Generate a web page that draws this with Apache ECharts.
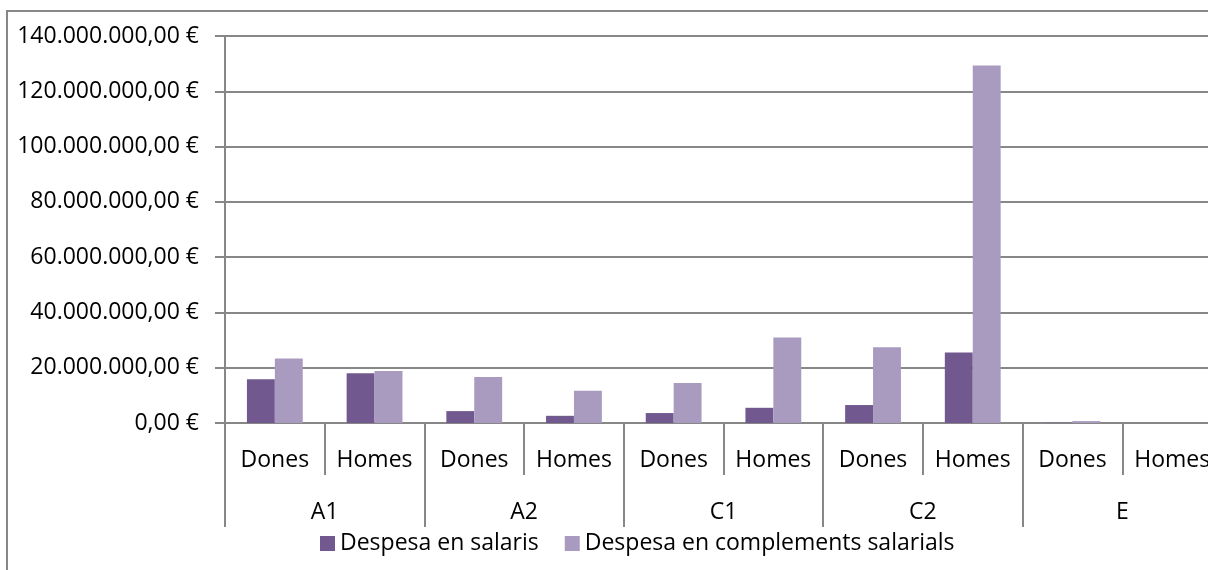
<!DOCTYPE html>
<html>
<head>
<meta charset="utf-8">
<script src="https://cdn.jsdelivr.net/npm/echarts@6/dist/echarts.min.js"></script>
<style>
html,body{margin:0;padding:0;background:#fff;}
#c{width:1208px;height:570px;}
</style>
</head>
<body>
<div id="c"></div>
<script>
const subCategories = ['Dones','Homes','Dones','Homes','Dones','Homes','Dones','Homes','Dones','Homes'];
const groups = ['A1','A2','C1','C2','E'];
const seriesNames = ['Despesa en salaris','Despesa en complements salarials'];
const salaris = [15800000, 18000000, 4300000, 2600000, 3600000, 5500000, 6500000, 25500000, 100000, 0];
const complements = [23300000, 18800000, 16600000, 11700000, 14500000, 30900000, 27400000, 129300000, 700000, 0];
const yTicks = {min: 0, max: 140000000, interval: 20000000};

const FONT = 'Open Sans';
const FS = 23;
const gray = '#878787';

function fmtEuro(v){
  const s = Math.round(v).toString().replace(/\B(?=(\d{3})+(?!\d))/g, '.');
  return s + ',00 €';
}

const chart = echarts.init(document.getElementById('c'), null, {renderer:'canvas'});
chart.setOption({
  animation: false,
  textStyle: {fontFamily: FONT},
  graphic: [{
    type: 'rect',
    shape: {x: 7, y: 11, width: 1400, height: 800},
    style: {fill: 'none', stroke: gray, lineWidth: 2},
    silent: true, z: -1
  }],
  grid: {left: 225, top: 36, height: 387, width: 997, containLabel: false, outerBoundsMode: 'none'},
  legend: {
    data: seriesNames,
    top: 532,
    left: 320,
    icon: 'rect',
    itemWidth: 15,
    itemHeight: 15,
    itemGap: 26,
    textStyle: {fontFamily: FONT, fontSize: FS, color: '#000'},
    padding: 0
  },
  xAxis: [{
    type: 'category',
    data: subCategories,
    position: 'bottom',
    axisLine: {show: true, lineStyle: {color: gray, width: 2}},
    axisTick: {show: true, interval: 0, length: 52, lineStyle: {color: gray, width: 2}},
    axisLabel: {interval: 0, margin: 26, fontFamily: FONT, fontSize: FS, color: '#000'},
    splitLine: {show: false}
  }, {
    type: 'category',
    data: groups,
    position: 'bottom',
    axisLine: {show: false},
    axisTick: {show: true, interval: 0, length: 104, lineStyle: {color: gray, width: 2}},
    axisLabel: {interval: 0, margin: 78, fontFamily: FONT, fontSize: FS, color: '#000'},
    splitLine: {show: false}
  }],
  yAxis: {
    type: 'value',
    min: yTicks.min, max: yTicks.max, interval: yTicks.interval,
    axisLine: {show: true, lineStyle: {color: gray, width: 2}},
    axisTick: {show: true, length: 10, lineStyle: {color: gray, width: 2}},
    axisLabel: {margin: 26, formatter: fmtEuro, fontFamily: FONT, fontSize: FS, color: '#000'},
    splitLine: {show: true, lineStyle: {color: gray, width: 2}}
  },
  series: [{
    name: seriesNames[0],
    type: 'bar',
    xAxisIndex: 0,
    data: salaris,
    barGap: '0%',
    barCategoryGap: '44%',
    itemStyle: {color: '#71598F'}
  }, {
    name: seriesNames[1],
    type: 'bar',
    xAxisIndex: 0,
    data: complements,
    barGap: '0%',
    barCategoryGap: '44%',
    itemStyle: {color: '#A99BC0'}
  }]
});
</script>
</body>
</html>
